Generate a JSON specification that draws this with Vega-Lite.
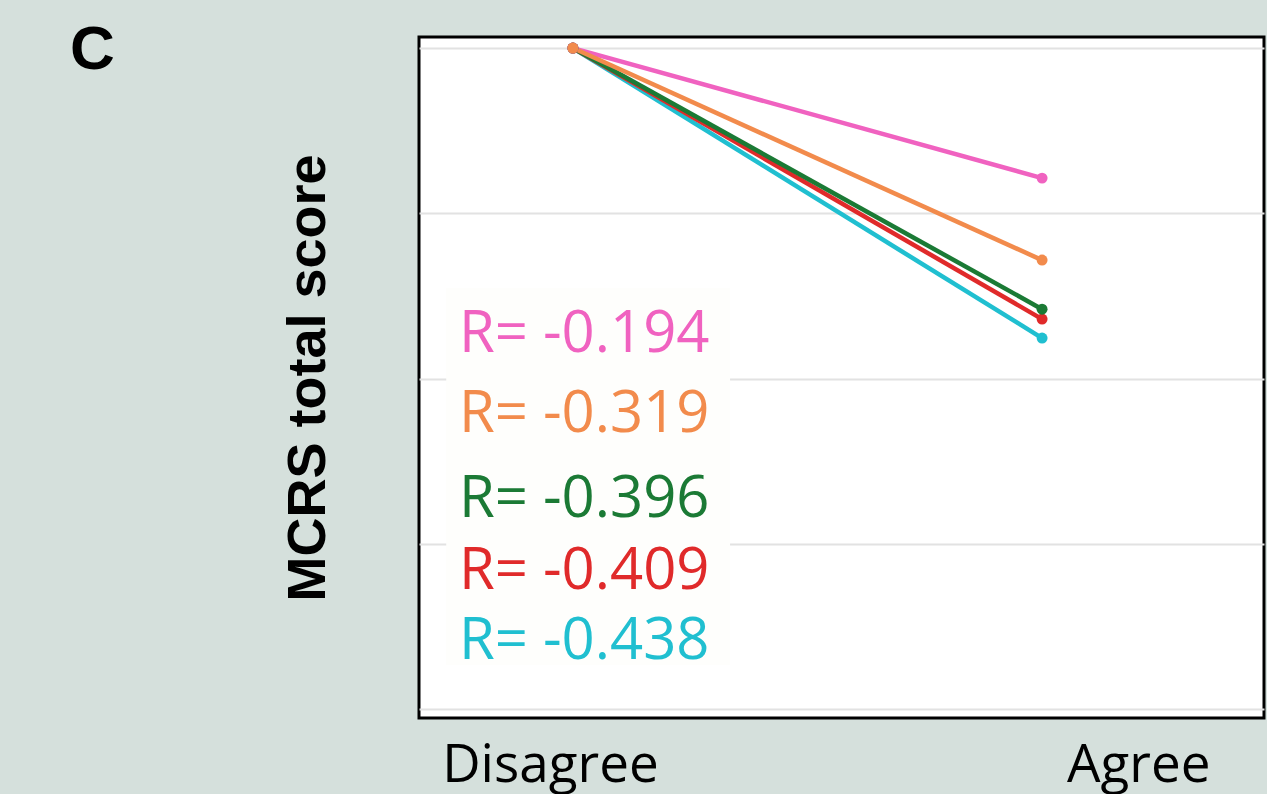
{
  "$schema": "https://vega.github.io/schema/vega-lite/v6.json",
  "width": 845,
  "height": 681,
  "autosize": "none",
  "padding": {"left": 419, "top": 37, "right": 3, "bottom": 76},
  "background": "#d5e0dc",
  "config": {"view": {"stroke": "#000000", "strokeWidth": 3, "fill": "#ffffff"}},
  "title": {
    "text": "C",
    "anchor": "start",
    "frame": "group",
    "orient": "top",
    "font": "Liberation Sans",
    "fontSize": 62,
    "fontWeight": "bold",
    "color": "#000000",
    "baseline": "alphabetic",
    "offset": 0,
    "dx": -349,
    "dy": 94
  },
  "datasets": {
    "lines": [
      {"series": "cyan", "response": "Disagree", "pos": 0, "score": 4.0},
      {"series": "cyan", "response": "Agree", "pos": 1, "score": 2.245},
      {"series": "red", "response": "Disagree", "pos": 0, "score": 4.0},
      {"series": "red", "response": "Agree", "pos": 1, "score": 2.36},
      {"series": "green", "response": "Disagree", "pos": 0, "score": 4.0},
      {"series": "green", "response": "Agree", "pos": 1, "score": 2.42},
      {"series": "pink", "response": "Disagree", "pos": 0, "score": 4.0},
      {"series": "pink", "response": "Agree", "pos": 1, "score": 3.213},
      {"series": "orange", "response": "Disagree", "pos": 0, "score": 4.0},
      {"series": "orange", "response": "Agree", "pos": 1, "score": 2.717}
    ],
    "labels": [
      {"series": "pink", "label": "R= -0.194", "ly": 2.263},
      {"series": "orange", "label": "R= -0.319", "ly": 1.779},
      {"series": "green", "label": "R= -0.396", "ly": 1.265},
      {"series": "red", "label": "R= -0.409", "ly": 0.829},
      {"series": "cyan", "label": "R= -0.438", "ly": 0.406}
    ]
  },
  "layer": [
    {
      "data": {"name": "lines"},
      "mark": {"type": "line", "strokeWidth": 4.5, "point": {"filled": true, "size": 120}},
      "encoding": {
        "x": {
          "field": "pos",
          "type": "quantitative",
          "scale": {"domain": [-0.328, 1.473], "nice": false, "zero": false},
          "axis": {
            "values": [-0.049, 1.205],
            "labelExpr": "datum.value < 0.5 ? 'Disagree' : 'Agree'",
            "grid": false,
            "ticks": false,
            "domain": false,
            "title": null,
            "labelFont": "Open Sans",
            "labelFontSize": 53,
            "labelColor": "#000000",
            "labelPadding": 21,
            "labelLimit": 0,
            "labelFlush": false,
            "labelOverlap": false
          }
        },
        "y": {
          "field": "score",
          "type": "quantitative",
          "scale": {"domain": [-0.054, 4.067], "nice": false, "zero": false},
          "axis": {
            "values": [0, 1, 2, 3, 4],
            "grid": true,
            "gridColor": "#e2e2e2",
            "gridWidth": 2,
            "labels": false,
            "ticks": false,
            "domain": false,
            "title": "MCRS total score",
            "titleFont": "Liberation Sans",
            "titleFontSize": 54,
            "titleFontWeight": "bold",
            "titleColor": "#000000",
            "titlePadding": 84
          }
        },
        "color": {
          "field": "series",
          "type": "nominal",
          "scale": {
            "domain": ["pink", "orange", "green", "red", "cyan"],
            "range": ["#f062c0", "#f28b4c", "#1b7a35", "#e02a2a", "#20bfd0"]
          },
          "legend": null
        },
        "order": {"field": "pos"},
        "detail": {"field": "series"}
      }
    },
    {
      "data": {"values": [{"box": 1}]},
      "mark": {"type": "rect", "fill": "#fefefc"},
      "encoding": {
        "x": {"datum": -0.27, "type": "quantitative"},
        "x2": {"datum": 0.335},
        "y": {"datum": 0.266, "type": "quantitative"},
        "y2": {"datum": 2.548}
      }
    },
    {
      "data": {"name": "labels"},
      "mark": {"type": "text", "align": "left", "baseline": "middle", "font": "Open Sans", "fontSize": 58},
      "encoding": {
        "x": {"datum": -0.243, "type": "quantitative"},
        "y": {"field": "ly", "type": "quantitative"},
        "text": {"field": "label"},
        "color": {
          "field": "series",
          "type": "nominal",
          "scale": {
            "domain": ["pink", "orange", "green", "red", "cyan"],
            "range": ["#e86cc4", "#f0955e", "#1f6e44", "#e0302f", "#3bbdc8"]
          },
          "legend": null
        }
      }
    }
  ]
}
